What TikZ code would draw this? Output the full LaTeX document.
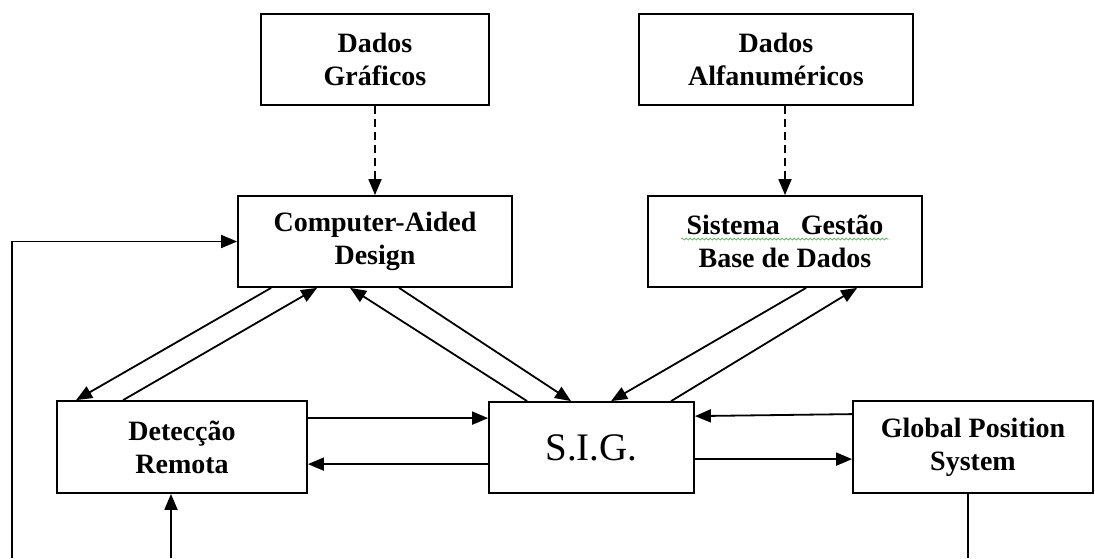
\documentclass[tikz,border=0pt]{standalone}
\usepackage{fontspec}
\setmainfont{Liberation Serif}
\usetikzlibrary{arrows.meta,calc,decorations.pathmorphing}
\definecolor{squiggle}{RGB}{70,175,70}
\begin{document}
\begin{tikzpicture}[x=1pt,y=-1pt,
  box/.style={draw, line width=1.8pt, rectangle, inner sep=0pt, align=center,
    font=\bfseries\fontsize{28}{33}\selectfont},
  conn/.style={line width=1.8pt, -{Triangle[length=16pt,width=13pt]}},
  plain/.style={line width=1.8pt},
  dconn/.style={conn, dash pattern=on 8pt off 5pt}]
\useasboundingbox (0,0) rectangle (1095,558);

\node[box, minimum width=228pt, minimum height=91pt] (dg) at (375,59.5) {Dados\\Gráficos};
\node[box, minimum width=274pt, minimum height=91pt] (da) at (776,59.5) {Dados\\Alfanuméricos};
\node[box, minimum width=274pt, minimum height=91pt] (cad) at (375,241.5) {Computer-Aided\\Design};
\node[box, minimum width=274pt, minimum height=91pt] (sgbd) at (785,241.5) {Sistema\hspace{21pt}Gestão\\Base de Dados};
\node[box, minimum width=250pt, minimum height=92pt] (det) at (182,447) {Detecção\\Remota};
\node[box, minimum width=205pt, minimum height=91pt, font=\fontsize{39}{44}\selectfont] (sig) at (591.5,447.5) {\raisebox{-6pt}{S.I.G.}};
\node[box, minimum width=240pt, minimum height=92pt] (gps) at (973,447) {Global Position\\System};

\coordinate (lb) at (12,558);
\coordinate (db) at (171,558);
\coordinate (gb) at (968,558);

% spell-check squiggle
\draw[squiggle, line width=0.7pt, decorate, decoration={snake, segment length=4pt, amplitude=1pt}]
  ([xshift=34pt,yshift=-44pt]sgbd.north west) -- ([xshift=-34pt,yshift=-44pt]sgbd.north east);

% dashed inputs
\draw[dconn] (dg.south) -- (cad.north);
\draw[dconn] (sgbd.north |- da.south) -- (sgbd.north);

% CAD <-> Detecção
\draw[conn] ([xshift=34pt]cad.south west) -- ([xshift=20pt]det.north west);
\draw[conn] ([xshift=67pt]det.north west) -- ([xshift=80pt]cad.south west);

% CAD <-> SIG
\draw[conn] ([xshift=39pt]sig.north west) -- ([xshift=113pt]cad.south west);
\draw[conn] ([xshift=162pt]cad.south west) -- ([xshift=83pt]sig.north west);

% SGBD <-> SIG
\draw[conn] ([xshift=159pt]sgbd.south west) -- ([xshift=123pt]sig.north west);
\draw[conn] ([xshift=183pt]sig.north west) -- ([xshift=210pt]sgbd.south west);

% Detecção <-> SIG
\draw[conn] ([yshift=-18pt]det.north east) -- ([yshift=-17pt]sig.north west);
\draw[conn] ([yshift=-63pt]sig.north west) -- ([yshift=-64pt]det.north east);

% GPS <-> SIG
\draw[conn] ([yshift=-14pt]gps.north west) -- ([yshift=-15pt]sig.north east);
\draw[conn] ([yshift=-58pt]sig.north east) -- ([yshift=-59pt]gps.north west);

% lines from below
\draw[conn] (lb) |- (cad.west);
\draw[conn] (db) -- (db |- det.south);
\draw[plain] (gb |- gps.south) -- (gb);
\end{tikzpicture}
\end{document}
